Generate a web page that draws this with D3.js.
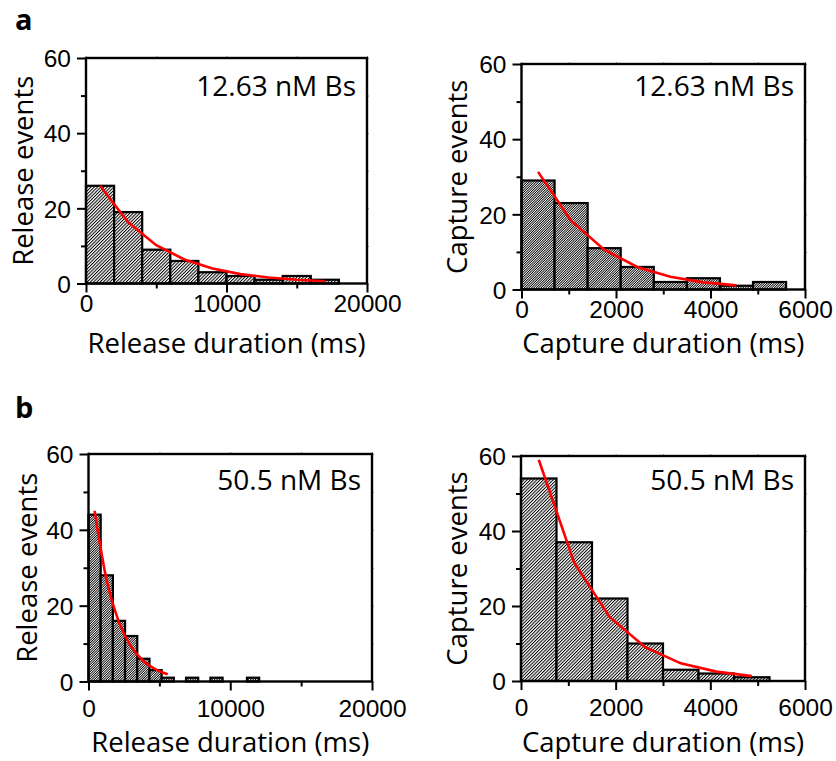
<!DOCTYPE html>
<html>
<head>
<meta charset="utf-8">
<script src="https://cdn.jsdelivr.net/npm/d3@7"></script>
<style>
  body { margin: 0; background: #fff; }
  svg { display: block; }
</style>
</head>
<body>
<svg id="chart"></svg>
<script>
// --- Data ---
// histogram counts per bin, bins start at 0
const releaseCountsA = [26, 19, 9, 6, 3, 2, 1, 2, 1];          // bin 2000 ms
const captureCountsA = [29, 23, 11, 6, 2, 3, 1, 2];            // bin 700 ms
const releaseCountsB = [44, 28, 16, 12, 6, 3, 1, 0, 1, 0, 1, 0, 0, 1]; // bin 860 ms
const captureCountsB = [54, 37, 22, 10, 3, 2, 1];              // bin 750 ms

const binWidths = [2000, 700, 860, 750];

// exponential fits (red), sampled at bin centres
const fitReleaseAX = [1000, 3000, 5000, 7000, 9000, 11000, 13000, 15000, 17000];
const fitReleaseAY = [26, 16.3, 10.2, 6.4, 4.0, 2.5, 1.6, 1.0, 0.6];
const fitCaptureAX = [350, 1050, 1750, 2450, 3150, 3850, 4550];
const fitCaptureAY = [31.3, 18.3, 10.6, 6.0, 3.4, 1.9, 1.1];
const fitReleaseBX = [430, 1290, 2150, 3010, 3870, 4730, 5590];
const fitReleaseBY = [45, 26.5, 15.6, 9.2, 5.4, 3.2, 1.9];
const fitCaptureBX = [375, 1125, 1875, 2625, 3375, 4125, 4875];
const fitCaptureBY = [59, 31.5, 17, 9, 4.7, 2.5, 1.3];

// axis ticks
const releaseTicks = [0, 10000, 20000];
const releaseMinor = [5000, 15000];
const captureTicks = [0, 2000, 4000, 6000];
const captureMinor = [1000, 3000, 5000];
const yTicks = [0, 20, 40, 60];
const yMinor = [10, 30, 50];

const concentrations = ["12.63 nM Bs", "50.5 nM Bs"];
const panelLetters = ["a", "b"];

// --- Setup ---
const W = 836, H = 761;
const svg = d3.select("#chart").attr("width", W).attr("height", H);
svg.append("rect").attr("width", W).attr("height", H).attr("fill", "#fff");

const defs = svg.append("defs");
function hatch(id, spacing, lw) {
    const p = defs.append("pattern")
        .attr("id", id)
        .attr("patternUnits", "userSpaceOnUse")
        .attr("width", spacing)
        .attr("height", spacing)
        .attr("patternTransform", "rotate(45)");
    p.append("rect").attr("width", spacing).attr("height", spacing).attr("fill", "#fff");
    p.append("rect").attr("width", lw).attr("height", spacing).attr("fill", "#000");
}
hatch("hatch-wide", 2.3, 1);
hatch("hatch-fine", 1.7, 0.85);

const labelFont = "'Open Sans', Lato, sans-serif";
const tickFont = "'Liberation Sans', Arial, sans-serif";
const fmt = d3.format("d");

const panels = [
    { counts: releaseCountsA, bin: binWidths[0], fx: fitReleaseAX, fy: fitReleaseAY, xMax: 20000,
      ticks: releaseTicks, minor: releaseMinor, xTitle: "Release duration (ms)", yTitle: "Release events",
      note: concentrations[0], left: 86, right: 367, top: 58, bottom: 283.5, fill: "hatch-wide",
      tickLabY: 28.5, xTitleY: 69.5, yTitleX: 33, noteY: 37.5, curve: d3.curveLinear },
    { counts: captureCountsA, bin: binWidths[1], fx: fitCaptureAX, fy: fitCaptureAY, xMax: 6000,
      ticks: captureTicks, minor: captureMinor, xTitle: "Capture duration (ms)", yTitle: "Capture events",
      note: concentrations[0], left: 521.5, right: 805, top: 64, bottom: 289.5, fill: "hatch-fine",
      tickLabY: 28.5, xTitleY: 63.5, yTitleX: 467, noteY: 31.5, curve: d3.curveLinear },
    { counts: releaseCountsB, bin: binWidths[2], fx: fitReleaseBX, fy: fitReleaseBY, xMax: 20000,
      ticks: releaseTicks, minor: releaseMinor, xTitle: "Release duration (ms)", yTitle: "Release events",
      note: concentrations[1], left: 88.5, right: 372, top: 454, bottom: 681.5, fill: "hatch-fine",
      tickLabY: 35, xTitleY: 70, yTitleX: 37, noteY: 36, curve: d3.curveMonotoneX },
    { counts: captureCountsB, bin: binWidths[3], fx: fitCaptureBX, fy: fitCaptureBY, xMax: 6000,
      ticks: captureTicks, minor: captureMinor, xTitle: "Capture duration (ms)", yTitle: "Capture events",
      note: concentrations[1], left: 521, right: 805, top: 456, bottom: 681, fill: "hatch-wide",
      tickLabY: 35, xTitleY: 70.5, yTitleX: 467, noteY: 34, curve: d3.curveLinear }
];

// --- Draw panels ---
panels.forEach(p => {
    const w = p.right - p.left, h = p.bottom - p.top;
    const g = svg.append("g").attr("transform", `translate(${p.left},${p.top})`);

    const x = d3.scaleLinear().domain([0, p.xMax]).range([0, w]);
    const y = d3.scaleLinear().domain([0, 60]).range([h, 0]);

    // bars
    const bins = p.counts.map((c, i) => ({ x0: i * p.bin, x1: (i + 1) * p.bin, c }))
        .filter(d => d.c > 0);
    g.selectAll(".bar")
        .data(bins)
        .join("rect")
        .attr("class", "bar")
        .attr("x", d => x(d.x0))
        .attr("width", d => x(d.x1) - x(d.x0))
        .attr("y", d => y(d.c))
        .attr("height", d => y(0) - y(d.c))
        .attr("fill", `url(#${p.fill})`)
        .attr("stroke", "#000")
        .attr("stroke-width", 2.2);

    // fit curve
    const fit = p.fx.map((v, i) => [v, p.fy[i]]);
    g.append("path")
        .datum(fit)
        .attr("fill", "none")
        .attr("stroke", "#ff0000")
        .attr("stroke-width", 2.6)
        .attr("d", d3.line().x(d => x(d[0])).y(d => y(d[1])).curve(p.curve));

    // faint ticks on top and right edges
    g.append("g")
        .call(d3.axisTop(x).tickValues(p.ticks.concat(p.minor)).tickSize(2).tickFormat("").tickSizeOuter(0))
        .call(a => a.select(".domain").remove())
        .selectAll("line").attr("stroke", "#999").attr("stroke-width", 1);
    g.append("g")
        .attr("transform", `translate(${w},0)`)
        .call(d3.axisRight(y).tickValues(yTicks.concat(yMinor)).tickSize(2).tickFormat("").tickSizeOuter(0))
        .call(a => a.select(".domain").remove())
        .selectAll("line").attr("stroke", "#999").attr("stroke-width", 1);

    // x axis
    const xMaj = g.append("g")
        .attr("transform", `translate(0,${h})`)
        .call(d3.axisBottom(x).tickValues(p.ticks).tickFormat(fmt).tickSize(9).tickSizeOuter(0));
    xMaj.select(".domain").remove();
    xMaj.selectAll("line").attr("stroke-width", 2);
    xMaj.selectAll("text")
        .attr("y", p.tickLabY).attr("dy", null)
        .style("font-family", tickFont).style("font-size", "24.5px").attr("fill", "#000");
    const xMin = g.append("g")
        .attr("transform", `translate(0,${h})`)
        .call(d3.axisBottom(x).tickValues(p.minor).tickSize(5).tickFormat("").tickSizeOuter(0));
    xMin.select(".domain").remove();
    xMin.selectAll("line").attr("stroke-width", 2);

    // y axis
    const yMaj = g.append("g")
        .call(d3.axisLeft(y).tickValues(yTicks).tickFormat(fmt).tickSize(9).tickPadding(6).tickSizeOuter(0));
    yMaj.select(".domain").remove();
    yMaj.selectAll("line").attr("stroke-width", 2);
    yMaj.selectAll("text")
        .attr("dy", "0.36em")
        .style("font-family", tickFont).style("font-size", "24.5px").attr("fill", "#000");
    const yMin = g.append("g")
        .call(d3.axisLeft(y).tickValues(yMinor).tickSize(5).tickFormat("").tickSizeOuter(0));
    yMin.select(".domain").remove();
    yMin.selectAll("line").attr("stroke-width", 2);

    // frame
    g.append("rect")
        .attr("width", w).attr("height", h)
        .attr("fill", "none").attr("stroke", "#000").attr("stroke-width", 2.4);

    // concentration note
    g.append("text")
        .attr("x", w - 11).attr("y", p.noteY)
        .attr("text-anchor", "end")
        .style("font-family", labelFont).style("font-size", "28px")
        .text(p.note);

    // axis titles
    svg.append("text")
        .attr("x", p.left + w / 2).attr("y", p.bottom + p.xTitleY)
        .attr("text-anchor", "middle")
        .style("font-family", labelFont).style("font-size", "27.5px")
        .text(p.xTitle);
    svg.append("text")
        .attr("transform", `translate(${p.yTitleX},${p.top + h / 2}) rotate(-90)`)
        .attr("text-anchor", "middle")
        .style("font-family", labelFont).style("font-size", "27.5px")
        .text(p.yTitle);
});

// panel letters
svg.selectAll(".letter")
    .data(panelLetters)
    .join("text")
    .attr("class", "letter")
    .attr("x", 15)
    .attr("y", (d, i) => i === 0 ? 30 : 418)
    .style("font-family", labelFont).style("font-size", "29px").style("font-weight", "bold")
    .text(d => d);
</script>
</body>
</html>
